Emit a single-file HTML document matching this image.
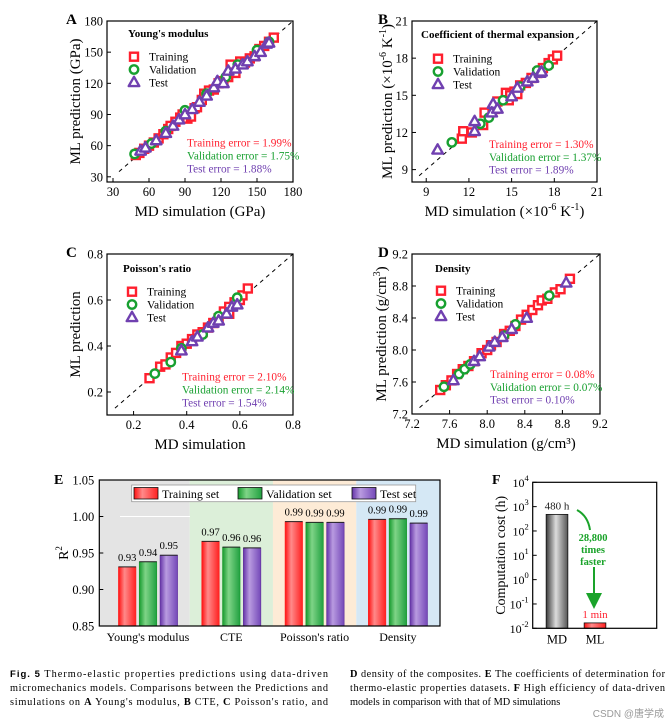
<!DOCTYPE html>
<html><head><meta charset="utf-8"><style>
html,body{margin:0;padding:0;background:#fff}
svg{display:block;font-family:"Liberation Serif",serif}
</style></head><body>
<svg id="fig" width="670" height="726" viewBox="0 0 670 726" xmlns="http://www.w3.org/2000/svg">
<defs>
<linearGradient id="gR" x1="0" x2="1" y1="0" y2="0"><stop offset="0" stop-color="#ff1010"/><stop offset="0.35" stop-color="#ff8a8a"/><stop offset="1" stop-color="#ff2020"/></linearGradient>
<linearGradient id="gG" x1="0" x2="1" y1="0" y2="0"><stop offset="0" stop-color="#169a2e"/><stop offset="0.35" stop-color="#7fd487"/><stop offset="1" stop-color="#20a040"/></linearGradient>
<linearGradient id="gP" x1="0" x2="1" y1="0" y2="0"><stop offset="0" stop-color="#6534a8"/><stop offset="0.35" stop-color="#b99be0"/><stop offset="1" stop-color="#7448b8"/></linearGradient>
<linearGradient id="gK" x1="0" x2="1" y1="0" y2="0"><stop offset="0" stop-color="#3a3a3a"/><stop offset="0.45" stop-color="#dcdcdc"/><stop offset="1" stop-color="#555"/></linearGradient>
<marker id="ah" markerWidth="8" markerHeight="8" refX="4" refY="4" orient="auto"><path d="M0,0 L8,4 L0,8 z" fill="#1aa32a"/></marker>
</defs>
<g id="root"></g>
</svg>
<script>
// ---- Panel A data (MD, ML) ----
const aTrainX=[49,52,56,60,64,68,72,76,78,82,86,88,92,95,98,100,104,106,110,114,118,122,126,128,132,136,140,144,148,152,156,160,164];
const aTrainY=[51,53,57,60,63,67,71,76,79,83,87,90,86,88,96,97,104,110,113,114,120,122,126,138,130,141,140,144,146,153,156,160,164];
const aValX=[48,62,74,90,108,124,134,150,160];
const aValY=[52,62,74,94,110,126,138,152,160];
const aTestX=[53,57,66,74,80,85,90,96,102,108,114,117,122,126,132,138,142,148,153,158,160];
const aTestY=[55,58,65,72,79,85,90,95,102,108,116,122,120,132,134,138,141,146,150,158,159];
// ---- Panel B data ----
const bTrainX=[11.5,11.6,12.2,13.0,13.1,13.8,14.0,14.6,14.8,15.2,15.6,16.0,16.4,16.8,17.2,17.6,17.9,18.2,14.9,15.4];
const bTrainY=[11.5,12.1,12.0,12.6,13.6,13.9,14.5,15.2,14.6,15.3,15.8,16.0,16.4,16.8,17.2,17.6,17.9,18.2,15.0,15.1];
const bValX=[10.8,12.8,13.4,14.4,15.6,16.8,17.6];
const bValY=[11.2,12.7,13.2,14.6,15.7,17.0,17.4];
const bTestX=[9.8,12.4,12.4,13.7,13.6,14.0,15.0,15.4,16.1,16.5,17.0,17.1];
const bTestY=[10.6,12.9,12.1,14.3,13.6,13.9,14.9,15.6,16.1,16.4,16.8,16.9];
// ---- Panel C data ----
const cTrainX=[0.26,0.30,0.32,0.34,0.36,0.38,0.40,0.42,0.44,0.46,0.48,0.50,0.52,0.54,0.56,0.58,0.60,0.61,0.63,0.56];
const cTrainY=[0.26,0.31,0.32,0.35,0.37,0.40,0.41,0.43,0.45,0.46,0.48,0.50,0.52,0.55,0.57,0.59,0.60,0.62,0.65,0.54];
const cValX=[0.28,0.34,0.38,0.46,0.52,0.59];
const cValY=[0.28,0.33,0.39,0.45,0.53,0.61];
const cTestX=[0.38,0.42,0.44,0.48,0.50,0.52,0.55,0.57,0.59];
const cTestY=[0.38,0.42,0.44,0.48,0.50,0.51,0.54,0.57,0.58];
// ---- Panel D data ----
const dTrainX=[7.50,7.56,7.62,7.68,7.74,7.80,7.86,7.94,8.00,8.04,8.10,8.18,8.24,8.30,8.36,8.42,8.48,8.54,8.58,8.64,8.72,8.78,8.88];
const dTrainY=[7.50,7.56,7.62,7.70,7.76,7.80,7.86,7.96,8.00,8.06,8.10,8.20,8.24,8.30,8.38,8.44,8.50,8.56,8.62,8.64,8.72,8.76,8.89];
const dValX=[7.54,7.70,7.76,7.82,8.18,8.30,8.66];
const dValY=[7.54,7.70,7.76,7.82,8.18,8.32,8.68];
const dTestX=[7.64,7.86,7.92,8.02,8.08,8.16,8.26,8.42,8.84];
const dTestY=[7.62,7.86,7.92,8.04,8.10,8.16,8.26,8.40,8.84];
// ---- Panel E data ----
const eCategories=["Young's modulus","CTE","Poisson's ratio","Density"];
const eTrain=[0.931,0.966,0.993,0.996];
const eVal=[0.938,0.958,0.992,0.997];
const eTest=[0.947,0.957,0.992,0.991];
const eTrainLbl=["0.93","0.97","0.99","0.99"];
const eValLbl=["0.94","0.96","0.99","0.99"];
const eTestLbl=["0.95","0.96","0.99","0.99"];
const eTicks=[0.85,0.90,0.95,1.00,1.05];
// ---- Panel F data ----
const fCategories=["MD","ML"];
const fValues=[480,1/60];
const fLabels=["480 h","1 min"];
const fTickExp=[-2,-1,0,1,2,3,4];

const NS='http://www.w3.org/2000/svg';
const root=document.getElementById('root');
function mk(tag,attrs,parent){const e=document.createElementNS(NS,tag);for(const k in attrs)e.setAttribute(k,attrs[k]);(parent||root).appendChild(e);return e;}
function txt(s,attrs,parent){const e=mk('text',attrs,parent);e.textContent=s;return e;}
const RED='#ff1f2e',GRN='#18a030',PUR='#7040b0';

function scatterPanel(o){
  const g=mk('g',{});
  
  
  const sx=v=>o.L+(v-o.min)/(o.max-o.min)*(o.R-o.L);
  const sy=v=>o.B-(v-o.min)/(o.max-o.min)*(o.B-o.T);
  const d=mk('line',{x1:sx(o.min+o.dOff),y1:sy(o.min+o.dOff),x2:sx(o.max),y2:sy(o.max),stroke:'#000','stroke-width':1,'stroke-dasharray':'4,4'},g);
  
  const draw=(xs,ys,type,nm)=>{const sg=mk('g',{},g);
    xs.forEach((x,i)=>{const px=sx(x),py=sy(ys[i]);marker(type,px,py,sg);});};
  draw(o.tr[0],o.tr[1],'sq','training-points');
  draw(o.va[0],o.va[1],'ci','validation-points');
  draw(o.te[0],o.te[1],'tr','test-points');
  const bx=mk('rect',{x:o.L,y:o.T,width:o.R-o.L,height:o.B-o.T,fill:'none',stroke:'#000','stroke-width':1.2},g);
  
  o.ticks.forEach((t,i)=>{
    const X=sx(t),Y=sy(t);
    mk('line',{x1:X,y1:o.B,x2:X,y2:o.B-4,stroke:'#000'},g);
    mk('line',{x1:o.L,y1:Y,x2:o.L+4,y2:Y,stroke:'#000'},g);
    const lx=txt(o.tl[i],{x:X,y:o.B+14,'font-size':12.5,'text-anchor':'middle'},g);
    
    const ly=txt(o.tl[i],{x:o.L-4,y:Y+4.5,'font-size':12.5,'text-anchor':'end'},g);
    
  });
  const xt=mk('text',{x:(o.L+o.R)/2,y:o.B+34,'font-size':15,'text-anchor':'middle'},g);xt.innerHTML=o.xt;
  
  const cy=(o.T+o.B)/2;
  const yt=mk('text',{x:0,y:0,'font-size':15,'text-anchor':'middle',transform:`translate(${o.ytx},${cy}) rotate(-90)`},g);yt.innerHTML=o.yt;
  
  const lt=txt(o.letter,{x:o.lx,y:o.T+3,'font-size':15,'font-weight':'bold'},g);
  
  const ti=txt(o.title,{x:o.tx,y:o.ty,'font-size':11,'font-weight':'bold'},g);
  
  const lg=mk('g',{},g);
  [['sq','Training'],['ci','Validation'],['tr','Test']].forEach((e,i)=>{
    const y=o.ly+i*12.8;marker(e[0],o.lmx,y,lg);
    const t=txt(e[1],{x:o.lmx+15,y:y+4,'font-size':11.5},lg);
    
  });
  [[RED,'Training error = '+o.err[0]],[GRN,'Validation error = '+o.err[1]],[PUR,'Test error = '+o.err[2]]].forEach((e,i)=>{
    const t=txt(e[1],{x:o.ex,y:o.ey+i*12.8+4,'font-size':11.3,fill:e[0]},g);
    
  });
}
function marker(type,x,y,p){
  if(type==='sq')mk('rect',{x:x-4,y:y-4,width:8,height:8,fill:'#fff',stroke:RED,'stroke-width':2.4},p);
  else if(type==='ci')mk('circle',{cx:x,cy:y,r:4.2,fill:'#fff',stroke:GRN,'stroke-width':2.4},p);
  else mk('polygon',{points:`${x},${y-5.5} ${x-5.3},${y+3.8} ${x+5.3},${y+3.8}`,fill:'#fff',stroke:PUR,'stroke-width':2.4,'stroke-linejoin':'round'},p);
}

scatterPanel({name:'panel-a-youngs-modulus',L:107,R:293,T:21,B:182,min:25,max:180,dOff:10,ticks:[30,60,90,120,150,180],tl:['30','60','90','120','150','180'],
  xt:'MD simulation (GPa)',yt:'ML prediction (GPa)',ytx:80,letter:'A',lx:66,title:"Young's modulus",tx:128,ty:37,lmx:134,ly:56.7,ex:187,ey:142.7,
  tr:[aTrainX,aTrainY],va:[aValX,aValY],te:[aTestX,aTestY],err:['1.99%','1.75%','1.88%']});
scatterPanel({name:'panel-b-cte',L:412,R:597,T:21,B:182,min:8,max:21,dOff:0.5,ticks:[9,12,15,18,21],tl:['9','12','15','18','21'],
  xt:'MD simulation (×10<tspan font-size="10" dy="-6">-6</tspan><tspan dy="6"> K</tspan><tspan font-size="10" dy="-6">-1</tspan><tspan dy="6">)</tspan>',
  yt:'ML prediction (×10<tspan font-size="10" dy="-6">-6</tspan><tspan dy="6"> K</tspan><tspan font-size="10" dy="-6">-1</tspan><tspan dy="6">)</tspan>',ytx:392,letter:'B',lx:378,title:'Coefficient of thermal expansion',tx:421,ty:38,lmx:438,ly:58.7,ex:489,ey:144,
  tr:[bTrainX,bTrainY],va:[bValX,bValY],te:[bTestX,bTestY],err:['1.30%','1.37%','1.89%']});
scatterPanel({name:'panel-c-poissons-ratio',L:107,R:293,T:254,B:415,min:0.1,max:0.8,dOff:0.03,ticks:[0.2,0.4,0.6,0.8],tl:['0.2','0.4','0.6','0.8'],
  xt:'MD simulation',yt:'ML prediction',ytx:80,letter:'C',lx:66,title:"Poisson's ratio",tx:123,ty:272,lmx:132,ly:291.7,ex:182,ey:376.7,
  tr:[cTrainX,cTrainY],va:[cValX,cValY],te:[cTestX,cTestY],err:['2.10%','2.14%','1.54%']});
scatterPanel({name:'panel-d-density',L:412,R:600,T:254,B:414,min:7.2,max:9.2,dOff:0.08,ticks:[7.2,7.6,8.0,8.4,8.8,9.2],tl:['7.2','7.6','8.0','8.4','8.8','9.2'],
  xt:'MD simulation (g/cm³)',yt:'ML prediction (g/cm<tspan font-size="10" dy="-6">3</tspan><tspan dy="6">)</tspan>',ytx:386,letter:'D',lx:378,title:'Density',tx:435,ty:272,lmx:441,ly:290.7,ex:490,ey:374,
  tr:[dTrainX,dTrainY],va:[dValX,dValY],te:[dTestX,dTestY],err:['0.08%','0.07%','0.10%']});

// ---- Panel E ----
(function(){
  const g=mk('g',{});
  const L=99.3,R=440,T=480,B=626,mn=0.85,mx=1.05;
  const sy=v=>B-(v-mn)/(mx-mn)*(B-T);
  const c0=148,step=83.3,bw=17.5,gap=20.8;
  const bgs=['#e4e4e4','#dcefd9','#fdebd6','#d5e8f5'];
  eCategories.forEach((c,i)=>{const x0=i===0?L:c0+(i-0.5)*step,x1=i===3?R:c0+(i+0.5)*step;
    const r=mk('rect',{x:x0,y:T,width:x1-x0,height:B-T,fill:bgs[i]},g);});
  mk('line',{x1:120,y1:sy(1.0),x2:190,y2:sy(1.0),stroke:'#fff','stroke-width':1},g);
  const series=[[eTrain,eTrainLbl,'url(#gR)','#ff2020'],[eVal,eValLbl,'url(#gG)','#1a9a2a'],[eTest,eTestLbl,'url(#gP)','#5a2a98']];
  eCategories.forEach((c,i)=>{
    series.forEach((s,j)=>{const cx=c0+i*step+(j-1)*gap;const y=sy(s[0][i]);
      const b=mk('rect',{x:cx-bw/2,y:y,width:bw,height:B-y,fill:s[2],stroke:s[3],'stroke-width':0.6},g);
      
      mk('line',{x1:cx-bw/2,y1:y,x2:cx+bw/2,y2:y,stroke:'#222','stroke-width':1},g);
      const t=txt(s[1][i],{x:cx,y:y-6,'font-size':10.5,'text-anchor':'middle'},g);
      });
    const t=txt(c,{x:c0+i*step,y:B+15,'font-size':12,'text-anchor':'middle'},g);
    
  });
  mk('rect',{x:L,y:T,width:R-L,height:B-T,fill:'none',stroke:'#000','stroke-width':1.2},g);
  eTicks.forEach(t=>{const y=sy(t);mk('line',{x1:L,y1:y,x2:L+4,y2:y,stroke:'#000'},g);
    const l=txt(t.toFixed(2),{x:L-5,y:y+4.5,'font-size':12.5,'text-anchor':'end'},g);});
  const yt=mk('text',{x:0,y:0,'font-size':14,'text-anchor':'middle',transform:`translate(68,${(T+B)/2}) rotate(-90)`},g);
  yt.innerHTML='R<tspan font-size="9" dy="-6">2</tspan>';
  const lt=txt('E',{x:54,y:484,'font-size':14,'font-weight':'bold'},g);
  const lg=mk('g',{},g);
  mk('rect',{x:131.7,y:485,width:284,height:16.7,fill:'#fff',stroke:'#999','stroke-width':0.8},lg);
  [['url(#gR)','Training set',134],['url(#gG)','Validation set',238],['url(#gP)','Test set',352]].forEach(e=>{
    mk('rect',{x:e[2],y:487.5,width:24,height:11.5,fill:e[0],stroke:'#111','stroke-width':0.8},lg);
    const t=txt(e[1],{x:e[2]+28,y:498,'font-size':12},lg);});
})();

// ---- Panel F ----
(function(){
  const g=mk('g',{});
  const L=532.7,R=656.7,T=482.3,B=628.3,lmn=-2,lmx=4;
  const sy=v=>B-(Math.log10(v)-lmn)/(lmx-lmn)*(B-T);
  const cx=[557,595],bw=21.7,fills=['url(#gK)','url(#gR)'],lc=['#222','#ff1f2e'];
  fCategories.forEach((c,i)=>{const y=sy(fValues[i]);
    const b=mk('rect',{x:cx[i]-bw/2,y:y,width:bw,height:B-y,fill:fills[i],stroke:'#111','stroke-width':0.8},g);
    
    const t=txt(fLabels[i],{x:cx[i],y:y-5,'font-size':11,'text-anchor':'middle',fill:lc[i]},g);
    
    const xl=txt(c,{x:cx[i],y:B+15,'font-size':12.5,'text-anchor':'middle'},g);
    });
  mk('rect',{x:L,y:T,width:R-L,height:B-T,fill:'none',stroke:'#000','stroke-width':1.2},g);
  fTickExp.forEach(e=>{const y=sy(Math.pow(10,e));mk('line',{x1:L,y1:y,x2:L+4,y2:y,stroke:'#000'},g);
    const l=mk('text',{x:L-4,y:y+4.5,'font-size':12,'text-anchor':'end'},g);
    l.innerHTML='10<tspan font-size="8.5" dy="-6">'+e+'</tspan>';
    });
  const yt=mk('text',{x:0,y:0,'font-size':14,'text-anchor':'middle',transform:`translate(505,${(T+B)/2}) rotate(-90)`},g);
  yt.textContent='Computation cost (h)';
  const lt=txt('F',{x:492,y:484,'font-size':14,'font-weight':'bold'},g);
  mk('path',{d:'M577,510 Q588,516 590,530',fill:'none',stroke:'#1aa32a','stroke-width':2},g);
  ['28,800','times','faster'].forEach((s,i)=>{const t=txt(s,{x:593,y:541+i*12,'font-size':10.5,'font-weight':'bold','text-anchor':'middle',fill:'#1aa32a'},g);
    });
  mk('line',{x1:594,y1:567,x2:594,y2:601,stroke:'#1aa32a','stroke-width':2,'marker-end':'url(#ah)'},g);
})();

// ---- Caption ----
(function(){
  const g=mk('g',{'font-family':'"Liberation Serif",serif','font-size':10.3});
  const l1=mk('text',{x:10,y:677,textLength:318,lengthAdjust:'spacing'},g);
  l1.innerHTML='<tspan font-family="Liberation Sans" font-weight="bold" font-size="9.5">Fig. 5</tspan> Thermo-elastic properties predictions using data-driven';
  txt('micromechanics models. Comparisons between the Predictions and',{x:10,y:691,textLength:318,lengthAdjust:'spacing'},g);
  const l3=mk('text',{x:10,y:705,textLength:318,lengthAdjust:'spacing'},g);
  l3.innerHTML='simulations on <tspan font-weight="bold">A</tspan> Young\'s modulus, <tspan font-weight="bold">B</tspan> CTE, <tspan font-weight="bold">C</tspan> Poisson\'s ratio, and';
  const r1=mk('text',{x:350,y:677,textLength:315,lengthAdjust:'spacing'},g);
  r1.innerHTML='<tspan font-weight="bold">D</tspan> density of the composites. <tspan font-weight="bold">E</tspan> The coefficients of determination for';
  const r2=mk('text',{x:350,y:691,textLength:315,lengthAdjust:'spacing'},g);
  r2.innerHTML='thermo-elastic properties datasets. <tspan font-weight="bold">F</tspan> High efficiency of data-driven';
  txt('models in comparison with that of MD simulations',{x:350,y:705},g);
  const w=txt('CSDN @唐学成',{x:664,y:717,'font-size':10,'text-anchor':'end',fill:'#999','font-family':'"Liberation Sans","Noto Sans CJK SC",sans-serif'},g);
  
})();
</script>
</body></html>
